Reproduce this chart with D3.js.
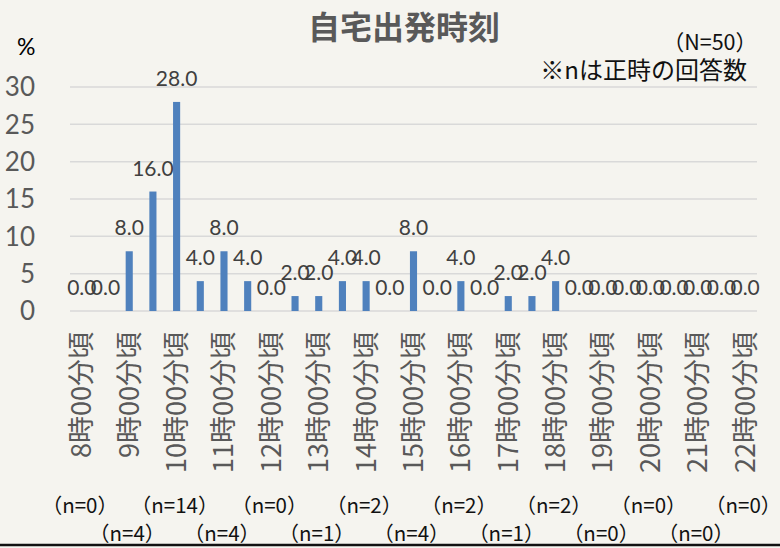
<!DOCTYPE html>
<html><head><meta charset="utf-8">
<script src="https://cdn.jsdelivr.net/npm/d3@7"></script>
<style>
html,body{margin:0;padding:0;background:#f5f4ef;}
svg{display:block;}
</style></head>
<body>
<svg id="c" width="780" height="548"></svg>
<script>
// ---- data ----
const categories = ["8:00","8:30","9:00","9:30","10:00","10:30","11:00","11:30","12:00","12:30","13:00","13:30","14:00","14:30","15:00","15:30","16:00","16:30","17:00","17:30","18:00","18:30","19:00","19:30","20:00","20:30","21:00","21:30","22:00"];
const values = [0,0,8,16,28,4,8,4,0,2,2,4,4,0,8,0,4,0,2,2,4,0,0,0,0,0,0,0,0];
const hourCategories = ["8:00","9:00","10:00","11:00","12:00","13:00","14:00","15:00","16:00","17:00","18:00","19:00","20:00","21:00","22:00"];
const hourLabels = ["8時00分頃","9時00分頃","10時00分頃","11時00分頃","12時00分頃","13時00分頃","14時00分頃","15時00分頃","16時00分頃","17時00分頃","18時00分頃","19時00分頃","20時00分頃","21時00分頃","22時00分頃"];
const nCounts = [0,4,14,4,0,1,2,4,2,1,2,0,0,0,0];
const yTicks = [0,5,10,15,20,25,30];
const title = "自宅出発時刻";
const noteN = "（N=50）";
const noteText = "※nは正時の回答数";

// ---- layout ----
const W = 780, H = 548;
const pLeft = 70, pRight = 757, pTop = 87, pBottom = 311;
const svg = d3.select("#c");
const numFont = "Lato, 'Noto Sans CJK JP', sans-serif";
const cjkFont = "'Noto Sans CJK JP', sans-serif";

const x = d3.scaleBand().domain(categories).range([pLeft, pRight]).padding(0);
const y = d3.scaleLinear().domain([0, 30]).range([pBottom, pTop]);

// gridlines
svg.append("g").selectAll("line").data(yTicks).join("line")
  .attr("x1", pLeft).attr("x2", pRight)
  .attr("y1", d => y(d)).attr("y2", d => y(d))
  .attr("stroke", "#d9d9d9").attr("stroke-width", 1.5);

// y axis labels
svg.append("g").selectAll("text").data(yTicks).join("text")
  .attr("x", 35).attr("y", d => y(d)).attr("dy", "0.36em")
  .attr("text-anchor", "end")
  .attr("font-family", numFont).attr("font-size", 26).attr("fill", "#595959")
  .text(d => d);

svg.append("text").attr("x", 17).attr("y", 55)
  .attr("font-family", numFont).attr("font-size", 23).attr("fill", "#000")
  .text("%");

// bars
const bw = x.bandwidth() * 0.3;
svg.append("g").selectAll("rect").data(values).join("rect")
  .attr("x", (d, i) => x(categories[i]) + x.bandwidth() / 2 - bw / 2)
  .attr("width", bw)
  .attr("y", d => y(d))
  .attr("height", d => y(0) - y(d))
  .attr("fill", "#4f81bd");

// value labels
svg.append("g").selectAll("text").data(values).join("text")
  .attr("x", (d, i) => x(categories[i]) + x.bandwidth() / 2)
  .attr("y", d => y(d) - 16)
  .attr("text-anchor", "middle")
  .attr("font-family", numFont).attr("font-size", 21).attr("fill", "#404040")
  .text(d => d.toFixed(1));

// x labels (rotated)
svg.append("g").selectAll("text").data(hourLabels).join("text")
  .attr("transform", (d, i) => `translate(${x(hourCategories[i]) + x.bandwidth() / 2},332) rotate(-90)`)
  .attr("dy", "0.35em")
  .attr("text-anchor", "end")
  .attr("font-family", cjkFont).attr("font-size", 27).attr("fill", "#595959")
  .text(d => d);

// n labels
svg.append("g").selectAll("text").data(nCounts).join("text")
  .attr("x", (d, i) => x(hourCategories[i]) + x.bandwidth() / 2 - 2)
  .attr("y", (d, i) => i % 2 === 0 ? 513 : 541)
  .attr("text-anchor", "middle")
  .attr("font-family", cjkFont).attr("font-size", 20.5).attr("fill", "#111")
  .text(d => `（n=${d}）`);

// bottom black line
svg.append("line").attr("x1", 0).attr("x2", W).attr("y1", 545).attr("y2", 545)
  .attr("stroke", "#111").attr("stroke-width", 2.5);

// title
svg.append("text").attr("x", 404).attr("y", 39).attr("text-anchor", "middle")
  .attr("font-family", cjkFont).attr("font-weight", "bold").attr("font-size", 32)
  .attr("fill", "#595959").text(title);

svg.append("text").attr("x", 757).attr("y", 50).attr("text-anchor", "end")
  .attr("font-family", cjkFont).attr("font-size", 21.5).attr("fill", "#111").text(noteN);
svg.append("text").attr("x", 747).attr("y", 79).attr("text-anchor", "end")
  .attr("font-family", cjkFont).attr("font-size", 24).attr("fill", "#111").text(noteText);
</script>
</body></html>
